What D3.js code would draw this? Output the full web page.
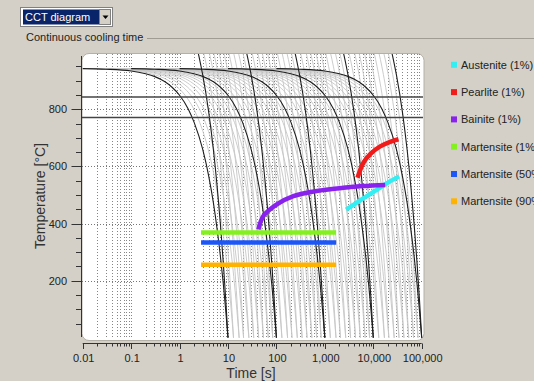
<!DOCTYPE html>
<html>
<head>
<meta charset="utf-8">
<script src="https://cdn.jsdelivr.net/npm/d3@7"></script>
<style>
body{margin:0;background:#d4d0c8;overflow:hidden}
text{font-family:"Liberation Sans",Arial,sans-serif}
</style>
</head>
<body>
<svg id="chart" width="534" height="381"></svg>
<script>
// end times (s) of the dark cooling curves, one per decade
const endTimes = [10, 100, 1000, 10000, 100000];
// light curves between them, as multiples of the decade curve
const grayFactors = [1.3, 1.7, 2.1, 2.7, 3.4, 4.3, 5.4, 6.8, 8.4];
// the 10 s curve leaving the flat austenitising line, [time s, temp C]
const flatCurve = [[0.01,942],[0.03,940],[0.1,934],[0.2,924],[0.3,915],[0.5,896],[0.7,877],[1,849],[1.5,802],[2,754],[3,660],[4,566],[5,472],[6,377],[7,283],[8,189],[9,94],[10,0]];
// the 10 s curve coming in from above the chart
const steepCurve = [[2.2,1027],[2.6,974],[3,921],[4,790],[5,658],[6,526],[7,395],[8,263],[9,132],[10,0]];
// Ac3 / Ac1 lines
const critTemps = [843, 771];

const austenite = [[2750,449],[6000,486],[12000,519],[20000,543],[34000,565]];
const pearlite = [[4720,560],[6280,613],[8640,643],[13900,670],[22340,686],[33200,695]];
const bainite = [[42.5,379],[53.8,426],[102,467],[224,496],[683,514],[2420,525],[6280,531],[17600,535]];
const martTimes = [2.78, 1710];
const martTemps = [369, 334, 256];

const legendNames = ["Austenite (1%)","Pearlite (1%)","Bainite (1%)","Martensite (1%)","Martensite (50%)","Martensite (90%)"];
const legendColors = ["#33eef2","#f01c1c","#8a22ee","#84f01e","#1c56f8","#ffb300"];

const xTickVals = [0.01,0.1,1,10,100,1000,10000,100000];
const yTickVals = [200,400,600,800];

const svg = d3.select("#chart");

// top controls
svg.append("rect").attr("x",20.5).attr("y",7.5).attr("width",92).attr("height",19)
  .attr("fill","#fff").attr("stroke","#808080");
svg.append("rect").attr("x",23).attr("y",9.5).attr("width",76).attr("height",15).attr("fill","#0a246a");
svg.append("text").attr("x",25).attr("y",21).attr("fill","#fff").style("font-size","11px").text("CCT diagram");
svg.append("rect").attr("x",99.5).attr("y",9.5).attr("width",11).attr("height",15)
  .attr("fill","#d4d0c8").attr("stroke","#808080");
svg.append("path").attr("d","M102.5,15.5h6l-3,3.5z").attr("fill","#000");

svg.append("text").attr("x",26).attr("y",41).attr("fill","#222").style("font-size","11px").text("Continuous cooling time");
svg.append("line").attr("x1",147).attr("x2",534).attr("y1",38.5).attr("y2",38.5).attr("stroke","#a09c94");

const x = d3.scaleLog().domain([0.01,100000]).range([82.7,421.7]);
const y = d3.scaleLinear().domain([0,1000]).range([337.8,52.1]);

// plot background
svg.append("rect").attr("x",82).attr("y",53.5).attr("width",342).attr("height",287).attr("rx",7)
  .attr("fill","#fff").attr("stroke","#b4b0a8");

svg.append("clipPath").attr("id","clip").append("rect")
  .attr("x",82).attr("y",54).attr("width",341).attr("height",284);
const plot = svg.append("g").attr("clip-path","url(#clip)");

// dotted grid
const gridX = [];
for (let d = 0.01; d < 100000; d *= 10) for (let m = 1; m < 10; m++) gridX.push(d*m);
plot.selectAll(".gx").data(gridX.slice(1)).enter().append("line")
  .attr("x1",d=>Math.round(x(d))+0.5).attr("x2",d=>Math.round(x(d))+0.5)
  .attr("y1",54).attr("y2",338)
  .attr("stroke","#858585").attr("stroke-dasharray","1,2");
plot.selectAll(".gy").data(yTickVals).enter().append("line")
  .attr("x1",82).attr("x2",424)
  .attr("y1",d=>Math.round(y(d))+0.5).attr("y2",d=>Math.round(y(d))+0.5)
  .attr("stroke","#777").attr("stroke-dasharray","1,2");

// cooling curves
const line = d3.line().curve(d3.curveMonotoneX);
function curvePath(profile, scale){
  return line(profile.map(p=>[x(p[0]*scale/10), y(p[1])]));
}
const grayScales = [];
endTimes.slice(0,4).forEach(e=>grayFactors.forEach(f=>grayScales.push(e*f)));
[flatCurve, steepCurve].forEach(profile=>{
  plot.append("g").selectAll("path").data(grayScales).enter().append("path")
    .attr("d",s=>curvePath(profile,s)).attr("fill","none")
    .attr("stroke","#c6c6c6").attr("stroke-width",0.9);
});
[flatCurve, steepCurve].forEach(profile=>{
  plot.append("g").selectAll("path").data(endTimes).enter().append("path")
    .attr("d",s=>curvePath(profile,s)).attr("fill","none")
    .attr("stroke","#1e1e1e").attr("stroke-width",1.1);
});

// critical temperatures
plot.selectAll(".crit").data(critTemps).enter().append("line")
  .attr("x1",82).attr("x2",424)
  .attr("y1",d=>y(d)).attr("y2",d=>y(d))
  .attr("stroke","#444").attr("stroke-width",1.4);

// transformation lines
const tLine = d3.line().x(d=>x(d[0])).y(d=>y(d[1])).curve(d3.curveCatmullRom);
const phaseLines = [austenite, pearlite, bainite];
phaseLines.forEach((pts,i)=>{
  plot.append("path").attr("d",tLine(pts)).attr("fill","none")
    .attr("stroke",legendColors[i]).attr("stroke-width",4.5).attr("stroke-linecap","butt");
});
martTemps.forEach((t,i)=>{
  plot.append("line").attr("x1",x(martTimes[0])).attr("x2",x(martTimes[1]))
    .attr("y1",y(t)).attr("y2",y(t))
    .attr("stroke",legendColors[i+3]).attr("stroke-width",4.5);
});

// y axis
const yAxis = svg.append("g").attr("stroke","#333");
yAxis.append("line").attr("x1",81.5).attr("x2",81.5).attr("y1",56).attr("y2",337);
const yMinor = d3.range(50,1000,50).filter(v=>v%200!==0);
yAxis.selectAll(".ym").data(yMinor).enter().append("line")
  .attr("x1",76).attr("x2",81.5)
  .attr("y1",d=>Math.round(y(d))+0.5).attr("y2",d=>Math.round(y(d))+0.5);
yAxis.selectAll(".yM").data(yTickVals).enter().append("line")
  .attr("x1",71.5).attr("x2",81.5)
  .attr("y1",d=>Math.round(y(d))+0.5).attr("y2",d=>Math.round(y(d))+0.5);
svg.selectAll(".yl").data(yTickVals).enter().append("text")
  .attr("x",67).attr("y",d=>y(d)+4).attr("text-anchor","end")
  .attr("fill","#222").style("font-size","11px").text(d=>d);

// x axis
const xAxis = svg.append("g").attr("stroke","#333");
xAxis.append("line").attr("x1",82.7).attr("x2",421.7).attr("y1",343.5).attr("y2",343.5);
const xMinor = gridX.filter(v=>!xTickVals.includes(v));
xAxis.selectAll(".xm").data(xMinor).enter().append("line")
  .attr("x1",d=>Math.round(x(d))+0.5).attr("x2",d=>Math.round(x(d))+0.5)
  .attr("y1",343.5).attr("y2",346.5);
xAxis.selectAll(".xM").data(xTickVals).enter().append("line")
  .attr("x1",d=>Math.round(x(d))+0.5).attr("x2",d=>Math.round(x(d))+0.5)
  .attr("y1",343.5).attr("y2",349);
const fmt = d3.format(",");
svg.selectAll(".xl").data(xTickVals).enter().append("text")
  .attr("x",d=>x(d)+1).attr("y",362).attr("text-anchor","middle")
  .attr("fill","#222").style("font-size","11px").text(d=>fmt(d));

svg.append("text").attr("x",251).attr("y",378).attr("text-anchor","middle")
  .attr("fill","#333").style("font-size","14px").text("Time [s]");
svg.append("text").attr("transform","translate(45,196) rotate(-90)").attr("text-anchor","middle")
  .attr("fill","#333").style("font-size","14px").text("Temperature [°C]");

// legend
const leg = svg.selectAll(".leg").data(legendNames).enter().append("g")
  .attr("transform",(d,i)=>"translate(451,"+(64.8+i*27.3)+")");
leg.append("rect").attr("x",0).attr("y",-3).attr("width",6).attr("height",6)
  .attr("fill",(d,i)=>legendColors[i]);
leg.append("text").attr("x",10).attr("y",4).attr("fill","#222")
  .style("font-size","11px").text(d=>d);
</script>
</body>
</html>
